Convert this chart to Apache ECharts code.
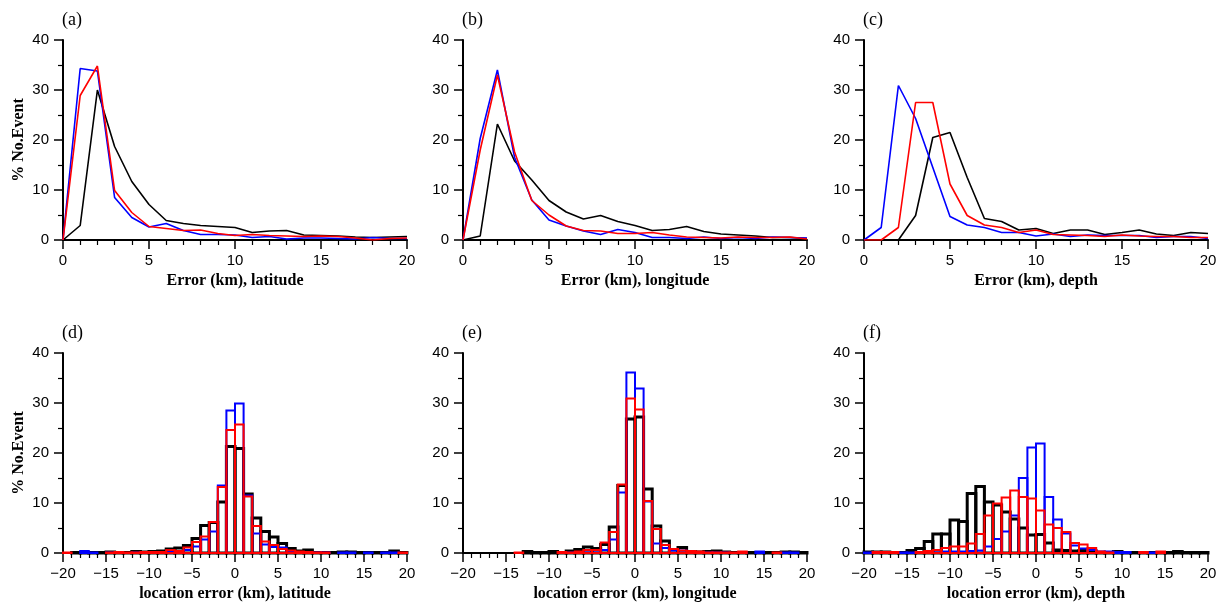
<!DOCTYPE html>
<html>
<head>
<meta charset="utf-8">
<script src="https://cdn.jsdelivr.net/npm/echarts@6/dist/echarts.min.js"></script>
<style>
html,body{margin:0;padding:0;background:#fff;}
#chart{width:1229px;height:603px;}
</style>
</head>
<body>
<div id="chart"></div>
<script>
// ---------- data ----------
const xErr = [0,1,2,3,4,5,6,7,8,9,10,11,12,13,14,15,16,17,18,19,20];
const topXTicks = [0,5,10,15,20];
const botXTicks = [-20,-15,-10,-5,0,5,10,15,20];
const yTicks = [0,10,20,30,40];

// (a) absolute error, latitude
const latBlack = [0,2.9,30,18.7,11.7,7.1,3.9,3.3,2.9,2.7,2.5,1.5,1.8,1.9,1.0,0.9,0.8,0.6,0.5,0.6,0.7];
const latBlue  = [0,34.3,33.8,8.5,4.5,2.6,3.3,1.9,1.1,1.1,1.0,0.5,0.7,0.2,0.4,0.4,0.3,0.2,0.5,0.3,0.3];
const latRed   = [0,28.9,34.8,9.9,5.5,2.7,2.3,1.9,2.0,1.3,0.9,1.1,0.9,0.8,0.7,0.8,0.7,0.4,0.0,0.3,0.4];
// (b) absolute error, longitude
const lonBlack = [0,0.8,23.2,15.8,12.0,7.9,5.6,4.2,4.9,3.7,2.9,1.9,2.1,2.7,1.7,1.2,1.0,0.8,0.5,0.5,0.3];
const lonBlue  = [0,20.3,34.0,16.5,8.0,4.0,2.8,1.8,1.1,2.1,1.5,0.5,0.5,0.3,0.6,0.3,0.5,0.3,0.6,0.5,0.4];
const lonRed   = [0,18.0,33.0,17.6,7.9,5.0,2.8,1.9,1.8,1.3,1.3,1.5,1.0,0.6,0.5,0.4,0.6,0.5,0.5,0.6,0.2];
// (c) absolute error, depth
const depBlack = [0,0,0,4.9,20.5,21.5,12.5,4.3,3.7,2.0,2.3,1.3,2.0,2.0,1.1,1.5,2.0,1.2,0.9,1.5,1.3];
const depBlue  = [0,2.5,30.9,24.3,14.5,4.7,3.0,2.5,1.5,1.5,0.8,1.2,0.7,1.0,0.9,0.9,0.9,0.5,0.7,0.7,0.3];
const depRed   = [0,0,2.5,27.5,27.5,11.2,4.9,3.0,2.5,1.5,2.0,1.1,1.0,0.9,0.7,1.0,0.8,0.7,0.7,0.5,0.5];

// histogram bin edges (1 km bins)
const binEdges = [-20,-19,-18,-17,-16,-15,-14,-13,-12,-11,-10,-9,-8,-7,-6,-5,-4,-3,-2,-1,0,1,2,3,4,5,6,7,8,9,10,11,12,13,14,15,16,17,18,19,20];
// (d) signed error, latitude
const hLatBlack = [0,0.1,0.1,0.1,0.1,0.2,0.1,0.1,0.3,0.2,0.3,0.4,0.8,1.0,1.5,2.9,5.5,6.1,10.2,21.3,20.9,11.8,7.0,4.3,3.2,1.9,0.9,0.4,0.6,0.1,0.1,0.1,0.2,0.2,0.1,0.1,0.1,0.1,0.4,0.1];
const hLatBlue  = [0,0,0.4,0.1,0,0.1,0.1,0,0.1,0.1,0.2,0.2,0.4,0.3,0.6,1.3,2.7,4.3,13.5,28.5,29.9,11.5,3.9,1.7,1.2,1.1,0.3,0.2,0.1,0.1,0.1,0,0.1,0.1,0,0.1,0,0.1,0.1,0];
const hLatRed   = [0.1,0,0,0,0,0.1,0.2,0.1,0.1,0.2,0.2,0.2,0.6,0.4,1.1,2.2,3.3,6.2,13.2,24.6,25.7,11.3,5.4,2.3,1.6,0.8,0.5,0.3,0.2,0.1,0.1,0,0,0,0,0,0,0,0,0.1];
// (e) signed error, longitude
const hLonBlack = [0,0,0,0,0,0,0,0.3,0.1,0.1,0.3,0.1,0.4,0.7,1.2,0.9,1.7,5.2,13.5,26.8,27.2,12.8,5.4,2.4,0.7,1.1,0.3,0.2,0.3,0.4,0.2,0.1,0.1,0.1,0.1,0.1,0.1,0.2,0.2,0.1];
const hLonBlue  = [0,0,0,0,0,0,0,0,0,0,0,0,0.1,0.2,0.5,0.5,0.6,2.7,12.1,36.1,32.9,10.3,1.9,1.0,0.5,0.5,0.2,0.1,0.1,0.1,0.1,0,0.1,0,0.3,0,0,0.1,0.1,0];
const hLonRed   = [0,0,0,0,0,0,0.1,0,0,0,0,0.2,0.1,0.3,0.6,0.6,2.1,4.2,13.7,30.9,28.7,10.4,4.8,1.6,0.8,0.5,0.4,0.3,0.1,0.1,0.1,0.1,0.3,0,0,0,0.1,0,0,0];
// (f) signed error, depth
const hDepBlack = [0.2,0.2,0.2,0.1,0.1,0.5,0.9,2.3,3.8,3.8,6.6,6.3,11.9,13.3,10.2,9.6,8.2,6.8,5.0,3.6,3.7,2.0,0.6,0.5,0.4,0.5,0.4,0.1,0.1,0.3,0.1,0.1,0.1,0.1,0.1,0.1,0.3,0.1,0.1,0.1];
const hDepBlue  = [0.1,0.2,0.2,0.1,0.1,0.1,0.1,0.1,0.1,0.3,0.3,0.3,0.4,0.5,1.3,2.8,4.3,7.5,15.0,21.1,21.9,11.2,6.7,3.9,1.5,0.9,0.6,0.3,0.3,0.2,0.2,0,0.1,0.1,0.1,0,0,0,0,0];
const hDepRed   = [0,0.2,0.2,0.2,0,0,0.2,0.4,0.6,1.0,1.3,1.3,1.9,3.8,7.5,9.9,11.1,12.5,11.2,10.9,8.5,5.7,5.0,4.2,2.0,1.7,1.0,0.3,0.1,0,0,0,0.2,0,0.3,0,0,0,0,0];

const panelLabels = ['(a)','(b)','(c)','(d)','(e)','(f)'];
const xNames = ['Error (km), latitude','Error (km), longitude','Error (km), depth',
  'location error (km), latitude','location error (km), longitude','location error (km), depth'];
const yName = '% No.Event';

// ---------- layout ----------
const lefts = [63, 463, 864];
const tops = [40, 353];
const W = 344, H = 200;

const SANS = 'Liberation Sans, Arial, sans-serif';
const SERIF = 'Liberation Serif, Times New Roman, serif';

const grids = [], xAxes = [], yAxes = [], series = [], titles = [];

function minusFmt(v){ return String(v).replace('-', '\u2212'); }

for (let r = 0; r < 2; r++) {
  for (let c = 0; c < 3; c++) {
    const i = r * 3 + c;
    grids.push({left: lefts[c], top: tops[r], width: W, height: H, outerBoundsMode: 'none', containLabel: false});
    const ticks = r === 0 ? topXTicks : botXTicks;
    xAxes.push({
      type: 'value', gridIndex: i,
      min: ticks[0], max: ticks[ticks.length - 1], interval: 5,
      name: xNames[i], nameLocation: 'middle', nameGap: 33, nameMoveOverlap: false,
      nameTextStyle: {fontFamily: SERIF, fontWeight: 'bold', fontSize: 16, color: '#000'},
      axisLine: {show: true, onZero: false, lineStyle: {color: '#000', width: 2}},
      axisTick: {show: true, length: 9, lineStyle: {color: '#000', width: 1.5}},
      minorTick: {show: true, splitNumber: 5, length: 5, lineStyle: {color: '#000', width: 1.2}},
      axisLabel: {fontFamily: SANS, fontSize: 15, color: '#000', margin: 13, formatter: minusFmt,
        showMinLabel: true, showMaxLabel: true, hideOverlap: false},
      splitLine: {show: false}
    });
    yAxes.push({
      type: 'value', gridIndex: i,
      min: yTicks[0], max: yTicks[yTicks.length - 1], interval: 10,
      name: c === 0 ? yName : '', nameLocation: 'middle', nameGap: 36, nameMoveOverlap: false,
      nameTextStyle: {fontFamily: SERIF, fontWeight: 'bold', fontSize: 16, color: '#000'},
      axisLine: {show: true, onZero: false, lineStyle: {color: '#000', width: 2}},
      axisTick: {show: true, length: 9, lineStyle: {color: '#000', width: 1.5}},
      minorTick: {show: true, splitNumber: 2, length: 5, lineStyle: {color: '#000', width: 1.2}},
      axisLabel: {fontFamily: SANS, fontSize: 15, color: '#000', margin: 14},
      splitLine: {show: false}
    });
    titles.push({
      text: panelLabels[i], left: lefts[c] - 1, top: tops[r] - 29, padding: 0,
      textStyle: {fontFamily: SERIF, fontWeight: 'normal', fontSize: 18, color: '#000'}
    });
  }
}

const colors = {black: '#000000', blue: '#0000ff', red: '#ff0000'};

// top row: lines
const topSets = [
  [latBlack, latBlue, latRed],
  [lonBlack, lonBlue, lonRed],
  [depBlack, depBlue, depRed]
];
const order = ['black', 'blue', 'red'];
topSets.forEach((set, c) => {
  set.forEach((arr, k) => {
    series.push({
      type: 'line', xAxisIndex: c, yAxisIndex: c,
      data: xErr.map((x, j) => [x, arr[j]]),
      symbol: 'none', silent: true, animation: false,
      lineStyle: {color: colors[order[k]], width: 1.6},
      z: 2 + k
    });
  });
});

// bottom row: outlined histograms
const botSets = [
  [hLatBlack, hLatBlue, hLatRed],
  [hLonBlack, hLonBlue, hLonRed],
  [hDepBlack, hDepBlue, hDepRed]
];
const widths = [3, 2, 2];
botSets.forEach((set, c) => {
  set.forEach((arr, k) => {
    const color = colors[order[k]];
    const lw = widths[k];
    const data = [];
    for (let j = 0; j < arr.length; j++) {
      if (arr[j] > 0) data.push([binEdges[j], binEdges[j + 1], arr[j]]);
    }
    series.push({
      type: 'custom', xAxisIndex: 3 + c, yAxisIndex: 3 + c,
      data: data, silent: true, animation: false,
      encode: {x: [0, 1], y: 2},
      z: 2 + k,
      renderItem: function (params, api) {
        const p0 = api.coord([api.value(0), 0]);
        const p1 = api.coord([api.value(1), api.value(2)]);
        return {
          type: 'rect',
          shape: {x: p0[0], y: p1[1], width: p1[0] - p0[0], height: p0[1] - p1[1]},
          style: {fill: 'none', stroke: color, lineWidth: lw}
        };
      }
    });
  });
});

const chart = echarts.init(document.getElementById('chart'), null, {renderer: 'canvas'});
chart.setOption({
  backgroundColor: '#fff',
  animation: false,
  title: titles,
  grid: grids,
  xAxis: xAxes,
  yAxis: yAxes,
  series: series
});
</script>
</body>
</html>
